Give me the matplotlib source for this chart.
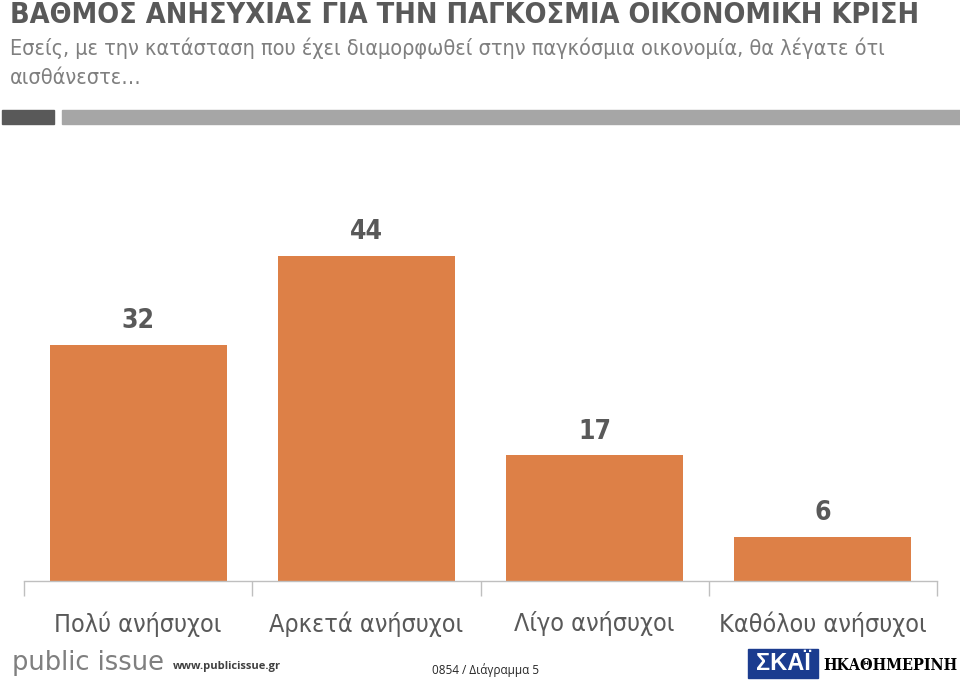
import matplotlib
matplotlib.use("Agg")
import matplotlib.pyplot as plt
from matplotlib.patches import Rectangle
from matplotlib.transforms import blended_transform_factory

categories = ["Πολύ ανήσυχοι", "Αρκετά ανήσυχοι", "Λίγο ανήσυχοι", "Καθόλου ανήσυχοι"]
values = [32, 44, 17, 6]

title = "ΒΑΘΜΟΣ ΑΝΗΣΥΧΙΑΣ ΓΙΑ ΤΗΝ ΠΑΓΚΟΣΜΙΑ ΟΙΚΟΝΟΜΙΚΗ ΚΡΙΣΗ"
subtitle = "Εσείς, με την κατάσταση που έχει διαμορφωθεί στην παγκόσμια οικονομία, θα λέγατε ότι\nαισθάνεστε…"

W, H = 960, 682
fig = plt.figure(figsize=(W/100, H/100), dpi=100)
fig.patch.set_facecolor("white")

cond = ["DejaVu Sans"]
dark = "#595959"
mid = "#7f7f7f"
orange = "#dd8047"

def fx(px): return px / W
def fy(py): return 1 - py / H

# title & subtitle
fig.text(fx(10), fy(15), title, fontsize=20.7, color=dark, family=cond, stretch="condensed",
         fontweight="bold", va="center", ha="left")
fig.text(fx(10), fy(48), subtitle.split("\n")[0], fontsize=15.5, color=mid, family=cond, stretch="condensed",
         va="center", ha="left")
fig.text(fx(10), fy(78), subtitle.split("\n")[1], fontsize=15.5, color=mid, family=cond, stretch="condensed",
         va="center", ha="left")

# header bars
fig.patches.append(Rectangle((fx(2), fy(124)), fx(52), 14/H, transform=fig.transFigure, color="#595959"))
fig.patches.append(Rectangle((fx(62), fy(124)), fx(898), 14/H, transform=fig.transFigure, color="#a6a6a6"))

# axes
ax = fig.add_axes([fx(24), fy(581), fx(913), (581 - 211.5) / H])
x = list(range(len(categories)))
ax.bar(x, values, width=0.776, color=orange)
ax.set_xlim(-0.5, len(categories) - 0.5)
ax.set_ylim(0, 50)
for s in ["top", "right", "left"]:
    ax.spines[s].set_visible(False)
ax.spines["bottom"].set_color("#bfbfbf")
ax.spines["bottom"].set_linewidth(1)
ax.set_yticks([])
ax.set_xticks([])
ax.set_xticks([i - 0.5 for i in range(len(categories) + 1)], minor=True)
ax.tick_params(axis="x", which="minor", length=11, color="#bfbfbf", width=1, labelbottom=False)

for xi, v in zip(x, values):
    ax.annotate(str(v), (xi, v), xytext=(0, 17), textcoords="offset points",
                ha="center", va="center", fontsize=19, fontweight="bold", color=dark,
                family=cond, stretch="condensed")

tr = blended_transform_factory(ax.transData, fig.transFigure)
for xi, c in zip(x, categories):
    ax.text(xi, fy(624), c, transform=tr, ha="center", va="center", fontsize=18, color=dark,
            family=cond, stretch="condensed")

# footer
fig.text(fx(12), fy(663), "public issue", fontsize=18.5, color=mid, family=["DejaVu Sans"],
         va="center", ha="left")
fig.text(fx(173), fy(666), "www.publicissue.gr", fontsize=8, color="#404040", family=["Open Sans", "DejaVu Sans"],
         va="center", ha="left", fontweight="bold")
fig.text(fx(432), fy(670), "0854 / Διάγραμμα 5", fontsize=8.5, color="#262626", family=["Open Sans", "DejaVu Sans"],
         va="center", ha="left")
fig.patches.append(Rectangle((fx(748), fy(678)), fx(70), 29/H, transform=fig.transFigure, color="#1b3c8f"))
fig.text(fx(783), fy(664), "ΣΚΑΪ", fontsize=17, color="white", fontweight="bold",
         family=["Liberation Sans", "DejaVu Sans"], va="center", ha="center")
fig.text(fx(958), fy(665), "ΗΚΑΘΗΜΕΡΙΝΗ", fontsize=11.5, color="black",
         family=["DejaVu Serif"], stretch="condensed", fontweight="bold", va="center", ha="right")

fig.savefig("out.png", dpi=100)
